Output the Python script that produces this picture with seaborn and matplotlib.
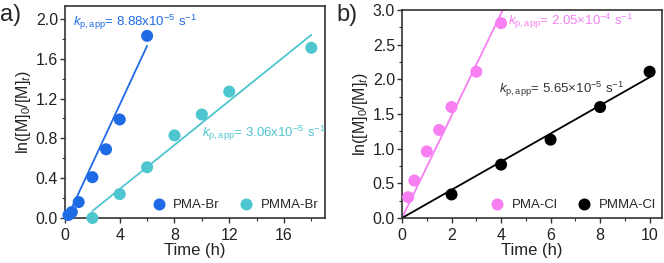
import numpy as np
import pandas as pd
import matplotlib
matplotlib.use("Agg")
import matplotlib.pyplot as plt
from matplotlib.ticker import MultipleLocator, AutoMinorLocator
import seaborn as sns

# ---- data (panel a) ----
pma_br_t = [0.25, 0.5, 1, 2, 3, 4, 6]
pma_br_y = [0.03, 0.06, 0.16, 0.41, 0.69, 0.99, 1.83]
pmma_br_t = [2, 4, 6, 8, 10, 12, 18]
pmma_br_y = [0.0, 0.24, 0.51, 0.83, 1.04, 1.27, 1.71]
fit_pma_br_t = [0.15, 6]
fit_pma_br_y = [0.0, 1.73]
fit_pmma_br_t = [2, 18]
fit_pmma_br_y = [0.07, 1.84]

# ---- data (panel b) ----
pma_cl_t = [0.25, 0.5, 1, 1.5, 2, 3, 4]
pma_cl_y = [0.30, 0.54, 0.96, 1.27, 1.60, 2.11, 2.81]
pmma_cl_t = [2, 4, 6, 8, 10]
pmma_cl_y = [0.34, 0.77, 1.13, 1.60, 2.11]
fit_pma_cl_t = [0, 4.07]
fit_pma_cl_y = [0.0, 3.0]
fit_pmma_cl_t = [0, 10]
fit_pmma_cl_y = [0.0, 2.03]

c_pma_br = "#1f6be6"
c_pmma_br = "#4ec6cf"
c_pma_cl = "#f77ff2"
c_pmma_cl = "#000000"

sns.set_theme(style="ticks")
plt.rcParams["font.family"] = ["Liberation Sans", "DejaVu Sans"]
plt.rcParams["mathtext.fontset"] = "custom"
plt.rcParams["mathtext.rm"] = "Liberation Sans"
plt.rcParams["mathtext.it"] = "Liberation Sans:italic"
plt.rcParams["mathtext.bf"] = "Liberation Sans:bold"

fig = plt.figure(figsize=(6.64, 2.63), dpi=100)
axa = fig.add_axes([65/664, 45/263, 260/664, 212/263])
axb = fig.add_axes([402/664, 45/263, 260/664, 208/263])

def style(ax):
    for s in ax.spines.values():
        s.set_linewidth(1.2)
        s.set_color("#333333")
    ax.tick_params(which="major", direction="out", length=3.5, width=1.0,
                   labelsize=11.5, colors="#333333", labelcolor="#222222", pad=1.5)
    ax.tick_params(axis="x", which="major", pad=3.5)
    ax.tick_params(which="minor", direction="out", length=2, width=0.8, colors="#333333")
    ax.xaxis.set_minor_locator(AutoMinorLocator(2))
    ax.yaxis.set_minor_locator(AutoMinorLocator(2))
    ax.set_xlabel("Time (h)", fontsize=12, labelpad=0.5, color="#222222")
    ax.set_ylabel(r"ln([M]$_0$/[M]$_t$)", fontsize=11.5, labelpad=2, color="#222222")

# panel a
dfa = pd.DataFrame({
    "t": pma_br_t + pmma_br_t,
    "y": pma_br_y + pmma_br_y,
    "s": ["PMA-Br"] * len(pma_br_t) + ["PMMA-Br"] * len(pmma_br_t),
})
sns.lineplot(x=fit_pma_br_t, y=fit_pma_br_y, ax=axa, color=c_pma_br, lw=1.3, legend=False)
sns.lineplot(x=fit_pmma_br_t, y=fit_pmma_br_y, ax=axa, color=c_pmma_br, lw=1.3, legend=False)
sns.scatterplot(data=dfa, x="t", y="y", hue="s", palette=[c_pma_br, c_pmma_br],
                s=75, edgecolor="none", ax=axa, zorder=3, clip_on=False)
axa.set_xlim(0, 19)
axa.set_ylim(0, 2.13)
axa.xaxis.set_major_locator(MultipleLocator(4))
axa.yaxis.set_major_locator(MultipleLocator(0.4))
axa.yaxis.set_major_formatter(matplotlib.ticker.FormatStrFormatter("%.1f"))
style(axa)
axa.legend(loc="lower right", ncol=2, frameon=False, fontsize=9.5, handletextpad=0.1,
           columnspacing=1.0, borderaxespad=0.1, markerscale=1.0)
axa.text(0.6, 1.97, r"$k_{\mathrm{p,app}}$= 8.88x10$^{-5}$ s$^{-1}$", color=c_pma_br,
         fontsize=9.5, va="center", ha="left")
axa.text(10.0, 0.85, r"$k_{\mathrm{p,app}}$= 3.06x10$^{-5}$ s$^{-1}$", color=c_pmma_br,
         fontsize=9.5, va="center", ha="left")
fig.text(0.0, 1 - 15/263, "a)", fontsize=17, ha="left", va="center")

# panel b
dfb = pd.DataFrame({
    "t": pma_cl_t + pmma_cl_t,
    "y": pma_cl_y + pmma_cl_y,
    "s": ["PMA-Cl"] * len(pma_cl_t) + ["PMMA-Cl"] * len(pmma_cl_t),
})
sns.lineplot(x=fit_pma_cl_t, y=fit_pma_cl_y, ax=axb, color=c_pma_cl, lw=1.3, legend=False)
sns.lineplot(x=fit_pmma_cl_t, y=fit_pmma_cl_y, ax=axb, color=c_pmma_cl, lw=1.3, legend=False)
sns.scatterplot(data=dfb, x="t", y="y", hue="s", palette=[c_pma_cl, c_pmma_cl],
                s=75, edgecolor="none", ax=axb, zorder=3, clip_on=False)
axb.set_xlim(0, 10.5)
axb.set_ylim(0, 3.0)
axb.xaxis.set_major_locator(MultipleLocator(2))
axb.yaxis.set_major_locator(MultipleLocator(0.5))
axb.yaxis.set_major_formatter(matplotlib.ticker.FormatStrFormatter("%.1f"))
style(axb)
axb.legend(loc="lower right", ncol=2, frameon=False, fontsize=9.5, handletextpad=0.1,
           columnspacing=1.0, borderaxespad=0.1, markerscale=1.0)
axb.text(4.3, 2.83, r"$k_{\mathrm{p,app}}$= 2.05$\times$10$^{-4}$ s$^{-1}$", color=c_pma_cl,
         fontsize=9.5, va="center", ha="left")
axb.text(3.9, 1.85, r"$k_{\mathrm{p,app}}$= 5.65$\times$10$^{-5}$ s$^{-1}$", color="#333333",
         fontsize=9.5, va="center", ha="left")
fig.text(336/664, 1 - 15/263, "b)", fontsize=17, ha="left", va="center")

fig.savefig("out.png", dpi=100)
